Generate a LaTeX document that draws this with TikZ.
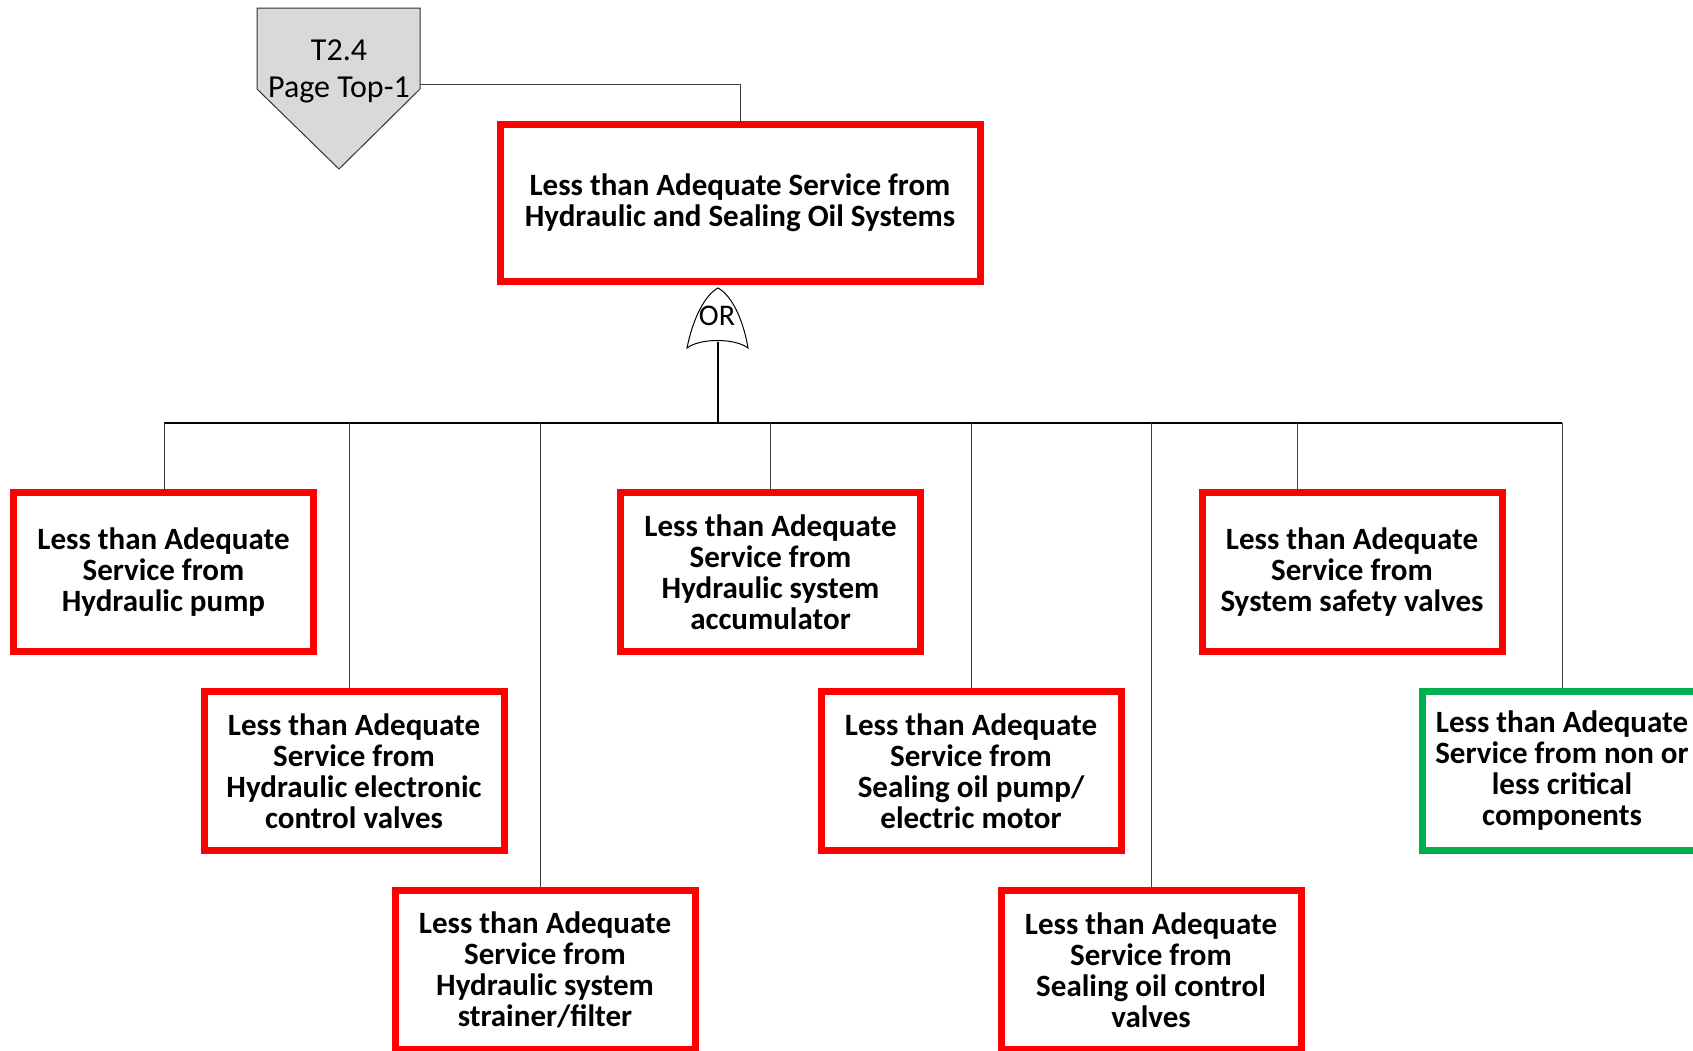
\documentclass[tikz,border=0pt]{standalone}
\usepackage{fontspec}
\setmainfont{Carlito}
\definecolor{evred}{HTML}{FF0000}
\definecolor{evgreen}{HTML}{00B050}
\definecolor{trgray}{HTML}{D9D9D9}
\tikzset{
  evt/.style={draw=evred, line width=7pt, minimum width=300pt, minimum height=159pt,
    align=center, inner sep=0pt, font=\fontsize{31}{31}\selectfont\bfseries},
  evtgreen/.style={evt, draw=evgreen},
  conn/.style={line width=1pt, draw=black!75},
  thick conn/.style={line width=2pt, draw=black},
}
\begin{document}
\begin{tikzpicture}[x=1pt,y=-1pt]
\useasboundingbox (0,0) rectangle (1693,1050);
\clip (0,0) rectangle (1693,1050);
\fill[white] (0,0) rectangle (1693,1050);

% transfer symbol
\draw[fill=trgray, draw=black!80, line width=1pt] (257,8) -- (420,8) -- (420,89) -- (339,169) -- (257,89) -- cycle;
\node[font=\fontsize{32}{37}\selectfont, align=center] (tr) at (339,71) {T2.4\\Page Top-1};
\coordinate (tro) at (420,84);

% top event
\node[evt, minimum width=480pt, minimum height=157pt] (top) at (740,203) {Less than Adequate Service from\\Hydraulic and Sealing Oil Systems};
\draw[conn] (tro) -| (top.north);

% OR gate
\draw[line width=1pt] (687,348) .. controls (693,318) and (705,295) .. (718,288)
  .. controls (731,295) and (743,318) .. (748,348)
  .. controls (735,338) and (700,338) .. (687,348) -- cycle;
\node[font=\fontsize{30}{34}\selectfont, inner sep=0pt] (orlbl) at (717,316) {OR};
\coordinate (gout) at (718,342);
\coordinate (busc) at (718,423);
\draw[thick conn] (gout) -- (busc);

% children
\node[evt] (c1) at (163.5,572) {Less than Adequate\\Service from\\Hydraulic pump};
\node[evt] (c2) at (354,771) {Less than Adequate\\Service from\\Hydraulic electronic\\control valves};
\node[evt] (c3) at (545,970) {Less than Adequate\\Service from\\Hydraulic system\\strainer/filter};
\node[evt] (c4) at (770.5,572) {Less than Adequate\\Service from\\Hydraulic system\\accumulator};
\node[evt] (c5) at (971,771) {Less than Adequate\\Service from\\Sealing oil pump/\\electric motor};
\node[evt] (c6) at (1151,970) {Less than Adequate\\Service from\\Sealing oil control\\valves};
\node[evt] (c7) at (1352,572) {Less than Adequate\\Service from\\System safety valves};
\node[evtgreen, minimum width=279pt] (c8) at (1562,771) {Less than Adequate\\Service from non or\\less critical\\components};

% bus
\coordinate (b1) at (164,423);
\coordinate (b2) at (349,423);
\coordinate (b3) at (540,423);
\coordinate (b4) at (770,423);
\coordinate (b5) at (971,423);
\coordinate (b6) at (1151,423);
\coordinate (b7) at (1297,423);
\coordinate (b8) at (1562,423);
\draw[thick conn] (b1) -- (b8);
\draw[conn] (b1) -- (b1 |- c1.north);
\draw[conn] (b2) -- (b2 |- c2.north);
\draw[conn] (b3) -- (b3 |- c3.north);
\draw[conn] (b4) -- (b4 |- c4.north);
\draw[conn] (b5) -- (b5 |- c5.north);
\draw[conn] (b6) -- (b6 |- c6.north);
\draw[conn] (b7) -- (b7 |- c7.north);
\draw[conn] (b8) -- (b8 |- c8.north);
\end{tikzpicture}
\end{document}
